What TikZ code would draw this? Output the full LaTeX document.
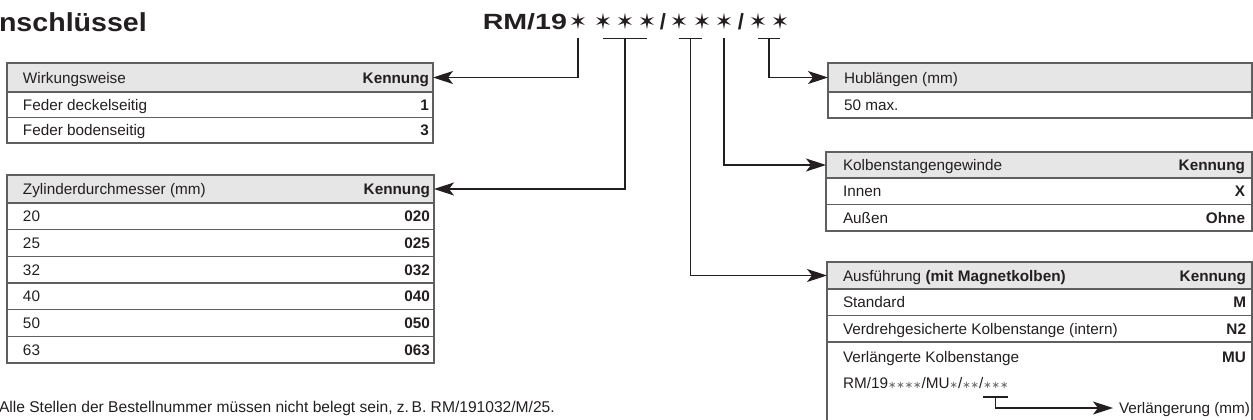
\documentclass[tikz,border=0pt]{standalone}
\usepackage{fontspec}
\setmainfont{Liberation Sans}
\newfontfamily\titlefont[FakeStretch=1.3]{Liberation Sans}
\newfontfamily\headfont[FakeStretch=1.1]{Liberation Sans}
\newfontfamily\symfont{DejaVu Sans}
\usetikzlibrary{arrows.meta, calc}
\definecolor{tabline}{HTML}{5F5F5F}
\definecolor{hdrfill}{HTML}{E6E6E6}
\definecolor{ink}{HTML}{231F20}
\newcommand\smst{{\symfont\fontsize{10}{10}\selectfont\textcolor{black!60}{∗}}}

\begin{document}
\begin{tikzpicture}[
  x=1pt, y=-1pt,
  every node/.style={inner sep=0pt, outer sep=0pt, text=ink},
  row/.style={rectangle, draw=tabline, line width=1.1pt, anchor=north west},
  hdr/.style={row, fill=hdrfill},
  lft/.style={anchor=west, text height=11pt, text depth=0pt, font=\fontsize{15.3}{18}\selectfont},
  rgt/.style={anchor=east, text height=11pt, text depth=0pt, font=\fontsize{15.3}{18}\selectfont\bfseries},
  code/.style={font=\titlefont\bfseries\fontsize{22}{24}\selectfont},
  slash/.style={font=\bfseries\fontsize{22}{24}\selectfont},
  bigstar/.style={font=\symfont\fontsize{22}{22}\selectfont},
  bar/.style={draw=ink, line width=1.1pt},
  conn/.style={draw=ink, line width=1.1pt, -{Stealth[length=20pt, width=13pt, inset=5pt]}}
]
  \useasboundingbox (0,0) rectangle (1253,420);
  \clip (0,0) rectangle (1253,420);

  \node[anchor=base west, font=\headfont\bfseries\fontsize{26}{28}\selectfont] (heading) at (-1,32) {nschlüssel};

  % order code
  \node[code, anchor=base east] (rm) at (567,30) {RM/19};
  \foreach \sx [count=\i] in {578,603,625,647,679,702,724,758,780}
    \node[bigstar] (s\i) at (\sx,21.5) {✶};
  \node[slash, anchor=base] (sl1) at (663,30) {/};
  \node[slash, anchor=base] (sl2) at (741,30) {/};
  \coordinate (tk) at (0,38.5);

  % Wirkungsweise
  \node[hdr, minimum width=426, minimum height=29] (wirkh) at (7,63) {};
  \node[lft] (wirkhl) at ([xshift=16pt]wirkh.west) {Wirkungsweise};
  \node[rgt] (wirkhr) at ([xshift=-4pt]wirkh.east) {Kennung};
  \foreach \l/\r [count=\i] in {Feder deckelseitig/1, Feder bodenseitig/3} {
    \node[row, minimum width=426, minimum height=25.5] (wirk\i) at (7,{92+25.5*(\i-1)}) {};
    \node[lft] (wirkL\i) at ([xshift=16pt]wirk\i.west) {\l};
    \node[rgt] (wirkR\i) at ([xshift=-4pt]wirk\i.east) {\r};
  }

  % Zylinderdurchmesser
  \node[hdr, minimum width=427, minimum height=28] (zylh) at (7,175) {};
  \node[lft] (zylhl) at ([xshift=16pt]zylh.west) {Zylinderdurchmesser (mm)};
  \node[rgt] (zylhr) at ([xshift=-4pt]zylh.east) {Kennung};
  \foreach \d [count=\i] in {20,25,32,40,50,63} {
    \node[row, minimum width=427, minimum height=26.67] (zyl\i) at (7,{203+26.67*(\i-1)}) {};
    \node[lft] (zylL\i) at ([xshift=16pt]zyl\i.west) {\d};
    \node[rgt] (zylR\i) at ([xshift=-4pt]zyl\i.east) {0\d};
  }

  % Hublaengen
  \node[hdr, minimum width=424, minimum height=29] (hubh) at (828,63) {};
  \node[lft] (hubhl) at ([xshift=16pt]hubh.west) {Hublängen (mm)};
  \node[row, minimum width=424, minimum height=26] (hub1) at (828,92) {};
  \node[lft] (hubL1) at ([xshift=16pt]hub1.west) {50 max.};

  % Kolbenstangengewinde
  \node[hdr, minimum width=426, minimum height=26] (kolbh) at (826,152) {};
  \node[lft] (kolbhl) at ([xshift=17pt]kolbh.west) {Kolbenstangengewinde};
  \node[rgt] (kolbhr) at ([xshift=-7pt]kolbh.east) {Kennung};
  \foreach \l/\r [count=\i] in {Innen/X, Außen/Ohne} {
    \node[row, minimum width=426, minimum height=26.5] (kolb\i) at (826,{178+26.5*(\i-1)}) {};
    \node[lft] (kolbL\i) at ([xshift=17pt]kolb\i.west) {\l};
    \node[rgt] (kolbR\i) at ([xshift=-7pt]kolb\i.east) {\r};
  }

  % Ausfuehrung
  \node[hdr, minimum width=425, minimum height=27] (ausfh) at (827,262) {};
  \node[lft] (ausfhl) at ([xshift=16pt]ausfh.west) {Ausführung \textbf{(mit Magnetkolben)}};
  \node[rgt] (ausfhr) at ([xshift=-6pt]ausfh.east) {Kennung};
  \foreach \l/\r [count=\i] in {Standard/M, Verdrehgesicherte Kolbenstange (intern)/N2} {
    \node[row, minimum width=425, minimum height=26.5] (ausf\i) at (827,{289+26.5*(\i-1)}) {};
    \node[lft] (ausfL\i) at ([xshift=16pt]ausf\i.west) {\l};
    \node[rgt] (ausfR\i) at ([xshift=-6pt]ausf\i.east) {\r};
  }
  \node[row, minimum width=425, minimum height=100] (ausf3) at (827,342) {};
  \node[lft] (ausfL3) at (843,357) {Verlängerte Kolbenstange};
  \node[rgt] (ausfR3) at (1246,357) {MU};
  \node[lft] (extcode) at (843,383) {RM/19\smst\smst\smst\smst/MU\smst/\smst\smst/};
  \node[lft] (extstars) at (extcode.east) {\smst\smst\smst};
  \node[lft, inner xsep=6pt] (extlen) at (1113,408) {Verlängerung (mm)};
  \coordinate (tk2) at (0,397);

  \node[lft, font=\fontsize{15.6}{18}\selectfont] (note) at (-1,407) {Alle Stellen der Bestellnummer müssen nicht belegt sein, z.\,B. RM/191032/M/25.};

  % connectors
  \draw[conn] (s1|-tk) |- (wirkh.east);
  \draw[bar] (s2|-tk) -- (s4|-tk);
  \draw[conn] (s3|-tk) |- (zylh.east);
  \coordinate (m56) at ($(s5)!0.5!(s6)$);
  \draw[bar] (s5|-tk) -- (s6|-tk);
  \draw[conn] (m56|-tk) |- (ausfh.west);
  \draw[conn] (s7|-tk) |- (kolbh.west);
  \coordinate (m89) at ($(s8)!0.5!(s9)$);
  \draw[bar] (s8|-tk) -- (s9|-tk);
  \draw[conn] (m89|-tk) |- (hubh.west);
  \draw[bar] (extstars.west|-tk2) -- (extstars.east|-tk2);
  \draw[conn] (extstars|-tk2) |- (extlen.west);
\end{tikzpicture}
\end{document}
